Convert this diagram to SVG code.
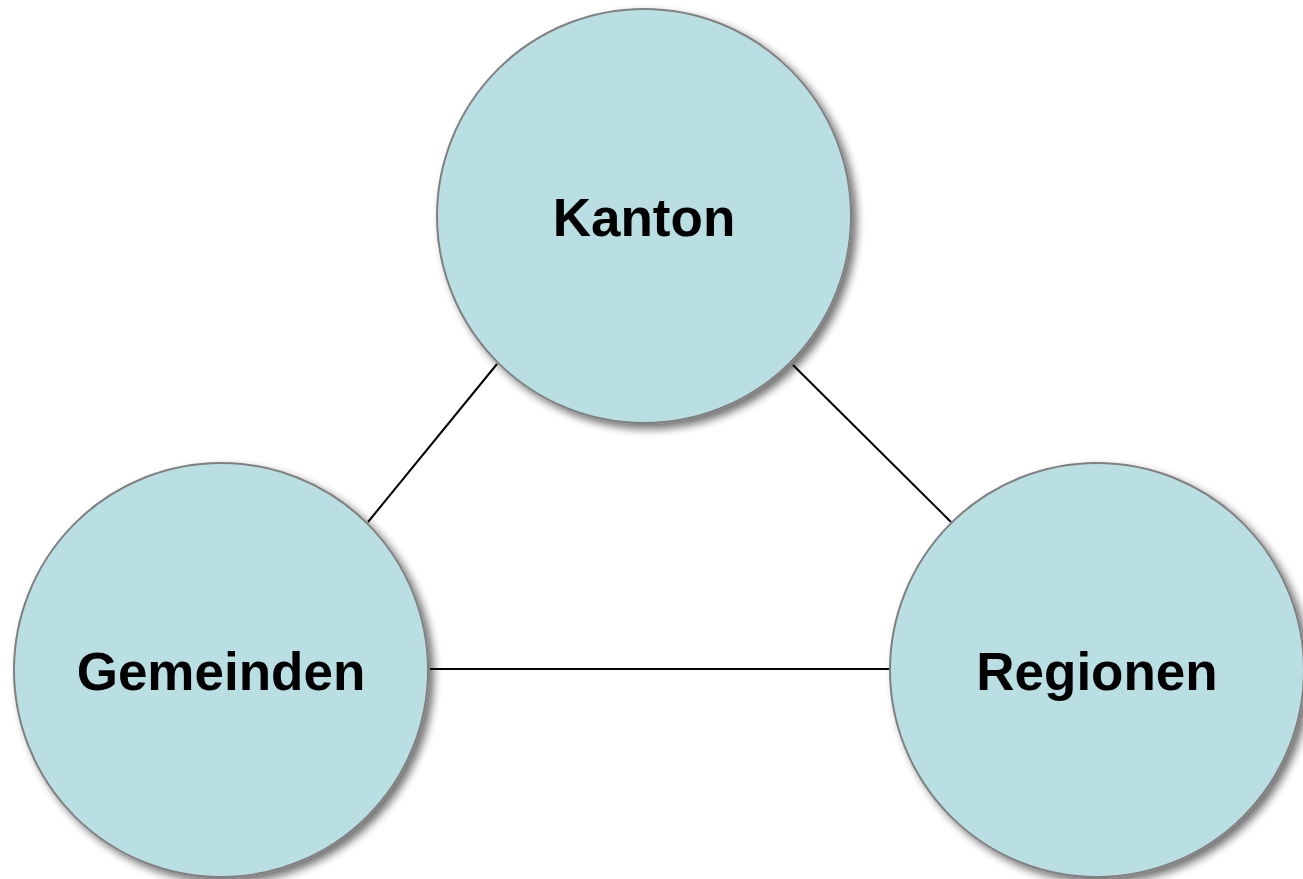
<svg xmlns="http://www.w3.org/2000/svg" width="1303" height="879" viewBox="0 0 1303 879">
<style>
.node{fill:#b9dfe3;stroke:#808080;stroke-width:2;filter:url(#sh)}
.lbl{font-family:"Liberation Sans",Arial,sans-serif;font-weight:bold;font-size:53px;fill:#000;text-anchor:middle}
.edge{stroke:#000;stroke-width:2;fill:none}
</style>
<defs>
<filter id="sh" x="-10%" y="-10%" width="130%" height="130%">
<feGaussianBlur in="SourceAlpha" stdDeviation="4"/>
<feOffset dx="5" dy="5" result="b"/>
<feComponentTransfer><feFuncA type="linear" slope="0.55"/></feComponentTransfer>
<feMerge><feMergeNode/><feMergeNode in="SourceGraphic"/></feMerge>
</filter>
</defs>
<g id="connectors">
<line class="edge" x1="497" y1="364" x2="368" y2="522"/>
<line class="edge" x1="793" y1="365" x2="951" y2="522"/>
<line class="edge" x1="430" y1="669" x2="890" y2="669"/>
</g>
<g id="kanton">
<circle class="node" cx="644" cy="216" r="207"/>
<text class="lbl" x="644" y="236">Kanton</text>
</g>
<g id="gemeinden">
<circle class="node" cx="221" cy="670" r="207"/>
<text class="lbl" x="221" y="690">Gemeinden</text>
</g>
<g id="regionen">
<circle class="node" cx="1097" cy="670" r="207"/>
<text class="lbl" x="1097" y="690">Regionen</text>
</g>
</svg>
